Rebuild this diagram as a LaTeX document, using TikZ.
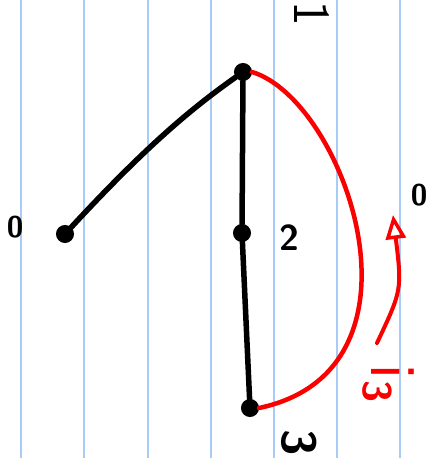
\documentclass[tikz,border=0pt]{standalone}
\usepackage{tikz}
\usetikzlibrary{arrows.meta}
\definecolor{RuleBlue}{RGB}{168,204,245}
\definecolor{InkRed}{RGB}{250,0,0}

\begin{document}
\begin{tikzpicture}[
  x=1pt, y=-1pt,
  vertex/.style={
    circle, draw=black, fill=black,
    line width=2pt, inner sep=0pt,
    minimum size=16pt},
  edge/.style={
    line width=5.5pt, black,
    line cap=round, line join=round},
  walk/.style={
    line width=4.5pt, InkRed,
    line cap=round},
  walkarrow/.style={
    -{Triangle[open, length=24pt, width=20pt, line width=3.5pt]},
    line width=4pt, InkRed, line cap=round},
  tag/.style={
    font=\sffamily, inner sep=0pt},
  rule/.style={RuleBlue, line width=1.5pt}
]

% paper
\useasboundingbox (0,0) rectangle (432,458);
\fill[white] (0,0) rectangle (432,458);
\foreach \x in {21,84,148,211,274,337,400}
  \draw[rule] (\x,0) -- (\x,458);

% vertices
\node[vertex] (top)  at (243,72)  {};
\node[vertex] (left) at (65,234)  {};
\node[vertex] (mid)  at (242,233) {};
\node[vertex] (bot)  at (250,408) {};

% tree
\draw[edge] (top) .. controls (195,106) and (150,142) .. (left);
\draw[edge] (top) -- (mid);
\draw[edge] (mid) -- (bot);

% walk
\draw[walk] (top.east) .. controls (345,100) and (440,370) .. (bot.east);

\coordinate (atail) at (377,343);
\coordinate (ahead) at (393,215);
\draw[walkarrow] (atail) .. controls (402,290) .. (ahead);

% labels
\node[tag, rotate=-90, font=\sffamily\fontsize{52}{52}\selectfont] (t1) at (312,14) {1};
\node[tag, font=\sffamily\bfseries\fontsize{30}{30}\selectfont] (t0a) at (15,227)  {0};
\node[tag, font=\sffamily\bfseries\fontsize{30}{30}\selectfont] (t0b) at (419,195) {0};
\node[tag, font=\sffamily\bfseries\fontsize{36}{36}\selectfont] (t2)  at (289,238) {2};
\node[tag, rotate=-90, font=\sffamily\bfseries\fontsize{48}{48}\selectfont] (t3) at (299,443) {3};
\node[tag, rotate=-90, text=InkRed, font=\sffamily\fontsize{66}{66}\selectfont] (ti) at (393,372) {i};
\node[tag, rotate=-90, text=InkRed, font=\sffamily\bfseries\fontsize{40}{40}\selectfont] (tw) at (377,391) {3};

\end{tikzpicture}
\end{document}
